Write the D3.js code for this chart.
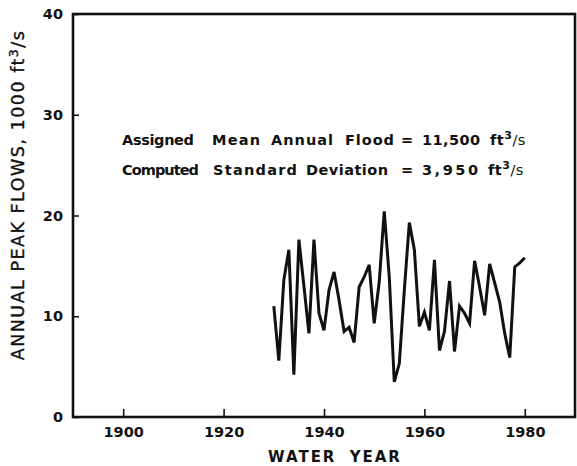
<!DOCTYPE html>
<html>
<head>
<meta charset="utf-8">
<script src="https://cdn.jsdelivr.net/npm/d3@7"></script>
<style>
  html, body { margin: 0; padding: 0; background: #fff; }
  svg { display: block; }
  text { fill: #111; }
</style>
</head>
<body>
<svg id="chart" width="577" height="466"></svg>
<script>
// Annual peak flows by water year, in 1000 ft3/s
const years = [
  1930, 1931, 1932, 1933, 1934, 1935, 1936, 1937, 1938, 1939,
  1940, 1941, 1942, 1943, 1944, 1945, 1946, 1947, 1948, 1949,
  1950, 1951, 1952, 1953, 1954, 1955, 1956, 1957, 1958, 1959,
  1960, 1961, 1962, 1963, 1964, 1965, 1966, 1967, 1968, 1969,
  1970, 1971, 1972, 1973, 1974, 1975, 1976, 1977, 1978, 1979,
  1980
];
const peakFlows = [
  11.0, 5.6, 13.6, 16.6, 4.2, 17.6, 13.0, 8.3, 17.6, 10.3,
  8.6, 12.6, 14.4, 11.6, 8.5, 8.9, 7.4, 12.9, 13.9, 15.1,
  9.3, 13.4, 20.4, 13.9, 3.5, 5.3, 12.6, 19.3, 16.6, 9.0,
  10.4, 8.6, 15.6, 6.6, 8.5, 13.5, 6.5, 11.0, 10.3, 9.3,
  15.5, 12.9, 10.1, 15.2, 13.3, 11.4, 8.3, 5.9, 14.9, 15.3,
  15.8
];
const xTickValues = [1900, 1920, 1940, 1960, 1980];
const yTickValues = [0, 10, 20, 30, 40];
const xDomain = [1890, 1990];
const yDomain = [0, 40];

const svg = d3.select("#chart");
const plot = { left: 73, right: 575, top: 14, bottom: 417 };
const fontFamily = "'DejaVu Sans', sans-serif";

const x = d3.scaleLinear().domain(xDomain).range([plot.left, plot.right]);
const y = d3.scaleLinear().domain(yDomain).range([plot.bottom, plot.top]);

// x axis: inward ticks, year labels below
const xAxis = svg.append("g")
  .attr("transform", `translate(0,${plot.bottom})`)
  .call(d3.axisBottom(x).tickValues(xTickValues).tickFormat(d3.format("d"))
    .tickSize(-8).tickPadding(10));
xAxis.select(".domain").remove();
xAxis.selectAll(".tick line").attr("stroke", "#111").attr("stroke-width", 1.6);
xAxis.selectAll(".tick text")
  .attr("font-family", fontFamily).attr("font-size", 14.5).attr("font-weight", "bold")
  .attr("fill", "#111");

// y axis: inward ticks, value labels at left
const yAxis = svg.append("g")
  .attr("transform", `translate(${plot.left},0)`)
  .call(d3.axisLeft(y).tickValues(yTickValues).tickFormat(d3.format("d"))
    .tickSize(-6).tickPadding(10));
yAxis.select(".domain").remove();
yAxis.selectAll(".tick line").attr("stroke", "#111").attr("stroke-width", 1.6);
yAxis.selectAll(".tick text")
  .attr("font-family", fontFamily).attr("font-size", 14.5).attr("font-weight", "bold")
  .attr("fill", "#111");

// plot frame
svg.append("rect")
  .attr("x", x(xDomain[0])).attr("y", y(yDomain[1]))
  .attr("width", x(xDomain[1]) - x(xDomain[0]))
  .attr("height", y(yDomain[0]) - y(yDomain[1]))
  .attr("fill", "none").attr("stroke", "#111").attr("stroke-width", 2.6);

// peak flow series
const series = years.map((yr, i) => ({ year: yr, value: peakFlows[i] }));
svg.append("path")
  .datum(series)
  .attr("fill", "none")
  .attr("stroke", "#111")
  .attr("stroke-width", 3)
  .attr("stroke-linejoin", "miter")
  .attr("d", d3.line().x(d => x(d.year)).y(d => y(d.value)));

// axis titles
svg.append("text")
  .attr("x", (plot.left + plot.right) / 2 + 11).attr("y", 462)
  .attr("text-anchor", "middle")
  .attr("font-family", fontFamily).attr("font-size", 15).attr("font-weight", "bold")
  .attr("letter-spacing", 2).attr("word-spacing", 6)
  .text("WATER YEAR");

const yTitle = svg.append("text")
  .attr("transform", `translate(24,195) rotate(-90)`)
  .attr("text-anchor", "middle")
  .attr("font-family", fontFamily).attr("font-size", 17.5)
  .attr("stroke", "#111").attr("stroke-width", 0.35)
  .attr("letter-spacing", 1.5);
yTitle.append("tspan").text("ANNUAL PEAK FLOWS, 1000 ft");
yTitle.append("tspan").attr("dy", -6).attr("font-size", 12.5).text("3");
yTitle.append("tspan").attr("dy", 6).text("/s");

// statistics note, laid out word by word: [text, left edge, width]
const notes = [
  { words: [["Assigned", 122, 72], ["Mean", 212, 48], ["Annual", 271, 62], ["Flood", 345, 49],
            ["=", 401, 0], ["11,500", 422, 58]], unit: 490, base: 145 },
  { words: [["Computed", 122, 77], ["Standard", 213, 84], ["Deviation", 306, 82],
            ["=", 401, 0], ["3,950", 422, 56]], unit: 488, base: 175 }
];
notes.forEach(line => {
  line.words.forEach(([w, x0, wd]) => {
    const t = svg.append("text")
      .attr("x", x0).attr("y", line.base)
      .attr("font-family", fontFamily).attr("font-size", 14.5).attr("font-weight", "bold")
      .text(w);
    if (wd) t.attr("textLength", wd).attr("lengthAdjust", "spacing");
  });
  const u = svg.append("text")
    .attr("x", line.unit).attr("y", line.base)
    .attr("font-family", fontFamily).attr("font-size", 14.5).attr("font-weight", "bold")
    .attr("letter-spacing", 0.5);
  u.append("tspan").text("ft");
  u.append("tspan").attr("dy", -6).attr("font-size", 11).text("3");
  u.append("tspan").attr("dy", 6).attr("font-weight", "normal").text("/s");
});
</script>
</body>
</html>
